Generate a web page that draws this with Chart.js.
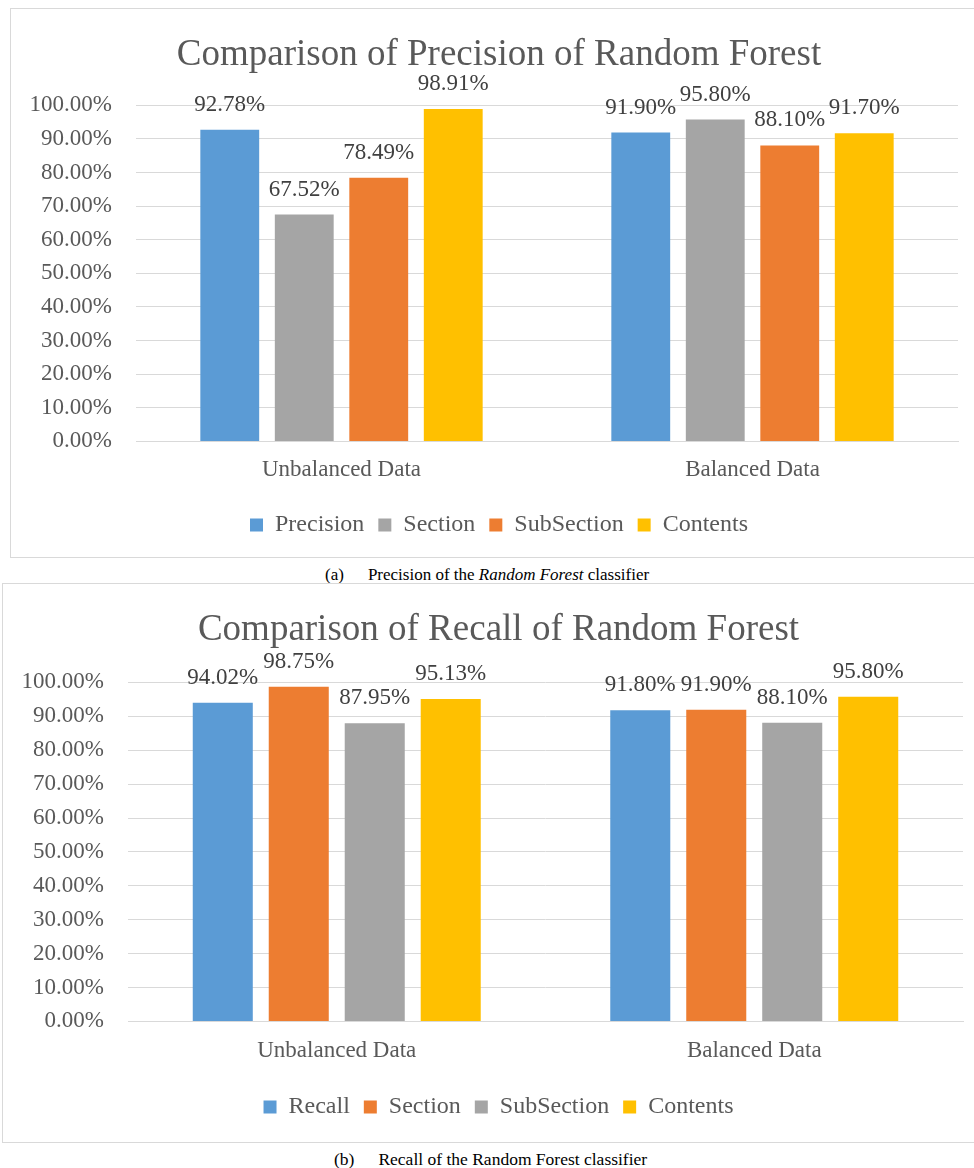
<!DOCTYPE html>
<html>
<head>
<meta charset="utf-8">
<script src="https://cdn.jsdelivr.net/npm/chart.js@4/dist/chart.umd.min.js"></script>
<style>
  html, body { margin: 0; padding: 0; background: #fff; }
  body { width: 974px; height: 1168px; position: relative; overflow: hidden; font-family: "Liberation Serif", serif; }
  .box { position: absolute; border: 1px solid #d9d9d9; background: #fff; }
  .box canvas { display: block; }
  .cap { position: absolute; font-size: 17px; line-height: 20px; color: #000; white-space: nowrap; }
  .cap .n { display: inline-block; margin-right: 24px; }
</style>
</head>
<body>
<div class="box" id="box1" style="left:10px; top:8px; width:976px; height:548px;"><canvas id="c1" width="976" height="548"></canvas></div>
<div class="cap" style="left:325px; top:565px;"><span class="n">(a)</span>Precision of the <i>Random Forest</i> classifier</div>
<div class="box" id="box2" style="left:2px; top:583px; width:991px; height:558px;"><canvas id="c2" width="991" height="558"></canvas></div>
<div class="cap" style="left:334px; top:1149px; font-size:17.5px;"><span class="n">(b)</span>Recall of the Random Forest classifier</div>
<script>
// ---- Data ----
const categories = ["Unbalanced Data", "Balanced Data"];

const precisionTitle = "Comparison of Precision of Random Forest";
const precisionSeriesNames = ["Precision", "Section", "SubSection", "Contents"];
const precisionValues = [92.78, 91.90];
const precisionSectionValues = [67.52, 95.80];
const precisionSubSectionValues = [78.49, 88.10];
const precisionContentsValues = [98.91, 91.70];

const recallTitle = "Comparison of Recall of Random Forest";
const recallSeriesNames = ["Recall", "Section", "SubSection", "Contents"];
const recallValues = [94.02, 91.80];
const recallSectionValues = [98.75, 91.90];
const recallSubSectionValues = [87.95, 88.10];
const recallContentsValues = [95.13, 95.80];

const yTicks = [0, 10, 20, 30, 40, 50, 60, 70, 80, 90, 100];

// ---- Styles ----
const BLUE = "#5B9BD5", ORANGE = "#ED7D31", GRAY = "#A5A5A5", YELLOW = "#FFC000";
const FONT = "\"Liberation Serif\", serif";
const TEXT = "#595959";

const valueLabels = {
  id: "valueLabels",
  afterDatasetsDraw(chart) {
    const ctx = chart.ctx;
    ctx.save();
    ctx.font = "23px " + FONT;
    ctx.fillStyle = "#404040";
    ctx.textAlign = "center";
    ctx.textBaseline = "middle";
    chart.data.datasets.forEach((ds, i) => {
      const meta = chart.getDatasetMeta(i);
      meta.data.forEach((bar, j) => {
        ctx.fillText(ds.data[j].toFixed(2) + "%", bar.x, bar.y - 25);
      });
    });
    ctx.restore();
  }
};

function makeChart(id, title, names, seriesList, colors, opts) {
  const datasets = names.map((n, i) => ({
    label: n,
    data: seriesList[i],
    backgroundColor: colors[i],
    borderWidth: 0,
    barPercentage: opts.barPct,
    categoryPercentage: opts.catPct
  }));
  return new Chart(document.getElementById(id), {
    type: "bar",
    data: { labels: categories, datasets },
    plugins: [valueLabels],
    options: {
      responsive: false,
      animation: false,
      layout: { padding: { left: 0, right: 0, top: 0, bottom: opts.padBottom } },
      plugins: {
        title: {
          display: true,
          text: title,
          color: TEXT,
          font: { family: FONT, size: 37, weight: "normal" },
          padding: { top: opts.titleTop, bottom: opts.titleBottom }
        },
        legend: {
          position: "bottom",
          labels: {
            color: TEXT,
            font: { family: FONT, size: 24 },
            boxWidth: 13, boxHeight: 13,
            padding: opts.legendPad
          }
        },
        tooltip: { enabled: false }
      },
      scales: {
        x: {
          grid: { display: false, drawTicks: false },
          border: { color: "#d9d9d9" },
          ticks: { color: TEXT, font: { family: FONT, size: 23, lineHeight: opts.xLineHeight }, padding: opts.xPad }
        },
        y: {
          min: 0, max: 100,
          afterFit(scale) { scale.width = opts.yWidth; },
          afterBuildTicks(scale) { scale.ticks = yTicks.map(v => ({ value: v })); },
          grid: { color: "#d9d9d9", drawTicks: false },
          border: { display: false },
          ticks: {
            color: TEXT,
            font: { family: FONT, size: 23 },
            padding: 24,
            callback: v => v.toFixed(2) + "%"
          }
        },
        yRight: {
          position: "right",
          min: 0, max: 100,
          afterFit(scale) { scale.width = opts.rightWidth; },
          grid: { display: false, drawTicks: false },
          border: { display: false },
          ticks: { display: false }
        }
      }
    }
  });
}

function draw() {
  makeChart("c1", precisionTitle, precisionSeriesNames,
    [precisionValues, precisionSectionValues, precisionSubSectionValues, precisionContentsValues],
    [BLUE, GRAY, ORANGE, YELLOW],
    { catPct: 0.725, barPct: 0.79, yWidth: 125, rightWidth: 29, titleTop: 24, titleBottom: 28,
      xPad: 18, xLineHeight: 0.94, padBottom: 10, legendPad: 14 });

  makeChart("c2", recallTitle, recallSeriesNames,
    [recallValues, recallSectionValues, recallSubSectionValues, recallContentsValues],
    [BLUE, ORANGE, GRAY, YELLOW],
    { catPct: 0.728, barPct: 0.79, yWidth: 125, rightWidth: 31, titleTop: 24, titleBottom: 30,
      xPad: 21, xLineHeight: 0.765, padBottom: 13, legendPad: 14 });
}

Chart.defaults.font.family = FONT;
if (document.fonts && document.fonts.load) {
  Promise.all([
    document.fonts.load('23px "Liberation Serif"'),
    document.fonts.load('italic 17px "Liberation Serif"')
  ]).then(draw, draw);
} else {
  draw();
}
</script>
</body>
</html>
